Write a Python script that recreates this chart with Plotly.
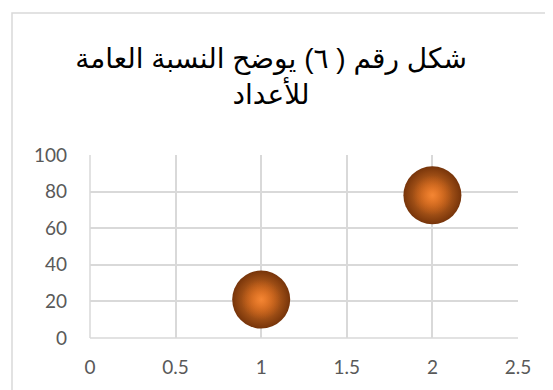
import plotly.graph_objects as go

x_values = [1, 2]
y_values = [21, 78]
x_ticks = [0, 0.5, 1, 1.5, 2, 2.5]
x_tick_labels = ["0", "0.5", "1", "1.5", "2", "2.5"]
y_ticks = [0, 20, 40, 60, 80, 100]
y_tick_labels = ["0", "20", "40", "60", "80", "100"]
title_text = "شكل رقم ( ٦) يوضح النسبة العامة<br>للأعداد"

W, H = 553, 390
OFF = 8  # page body margin offset
L, T = 90 - OFF, 155 - OFF
R = W - (518 - OFF)
B = H - (338 - OFF)
pw, ph = W - L - R, H - T - B

def px_x(p):
    return (p - OFF - L) / pw

def px_y(p):
    return (H - B - (p - OFF)) / ph

fig = go.Figure()
fig.add_trace(go.Scatter(
    x=x_values, y=y_values, mode="markers",
    marker=dict(size=58, color="#76340A",
                gradient=dict(type="radial", color="#F0832C"),
                line=dict(width=0)),
    hoverinfo="skip", showlegend=False,
))
fig.add_trace(go.Scatter(
    x=x_values, y=y_values, mode="markers",
    marker=dict(size=40, color="rgba(225,95,15,0)",
                gradient=dict(type="radial", color="rgba(245,135,55,0.7)"),
                line=dict(width=0)),
    hoverinfo="skip", showlegend=False,
))

fig.update_layout(
    width=W, height=H,
    margin=dict(l=L, r=R, t=T, b=B, autoexpand=False),
    paper_bgcolor="white", plot_bgcolor="white",
    title=dict(text=title_text, x=(263 / W), xanchor="center",
               y=1 - 60 / H, yanchor="top",
               font=dict(family="Arial, Liberation Sans, DejaVu Sans", size=28, color="#000000")),
    xaxis=dict(range=[0, 2.5], tickvals=x_ticks, ticktext=x_tick_labels,
               showgrid=True, gridcolor="#D9D9D9", gridwidth=1.5,
               zeroline=False, showline=False, automargin=False,
               ticks="", ticklabelstandoff=16,
               tickfont=dict(family="Lato, Open Sans", size=19, color="#595959")),
    yaxis=dict(range=[0, 100], tickvals=y_ticks, ticktext=y_tick_labels,
               showgrid=True, gridcolor="#D9D9D9", gridwidth=1.5,
               zeroline=False, showline=False, automargin=False,
               ticks="", ticklabelstandoff=22,
               tickfont=dict(family="Lato, Open Sans", size=19, color="#595959")),
    shapes=[
        dict(type="line", xref="paper", yref="paper", x0=0, x1=1, y0=0, y1=0,
             line=dict(color="#D9D9D9", width=1.5), layer="below"),
        dict(type="line", xref="paper", yref="paper", x0=0, x1=0, y0=0, y1=1,
             line=dict(color="#D9D9D9", width=1.5), layer="below"),
        dict(type="rect", xref="paper", yref="paper",
             x0=px_x(12), x1=px_x(580), y0=px_y(13), y1=px_y(420),
             line=dict(color="#D9D9D9", width=1.5), fillcolor="rgba(0,0,0,0)",
             layer="below"),
    ],
)

fig.write_html("out.html")
